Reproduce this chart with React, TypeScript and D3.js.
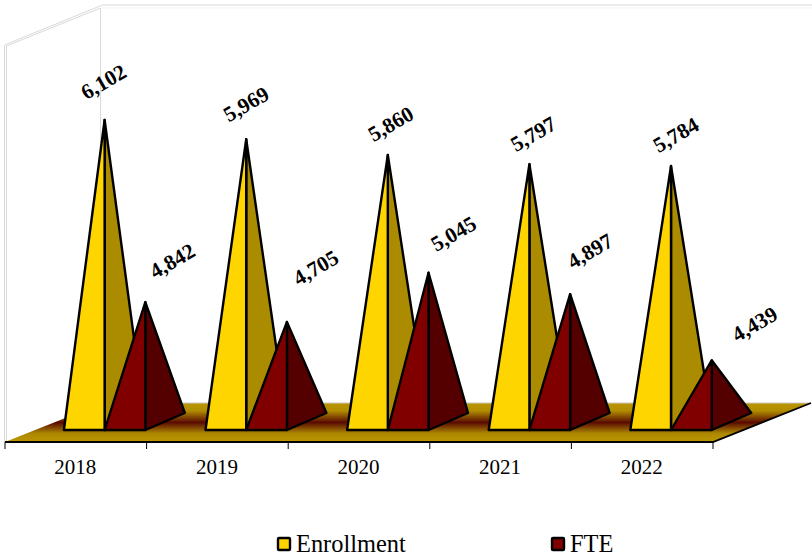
import React from "react";
import * as d3 from "d3";

const categories = ["2018", "2019", "2020", "2021", "2022"];
const enrollment = [6102, 5969, 5860, 5797, 5784];
const fte = [4842, 4705, 5045, 4897, 4439];
const seriesNames = ["Enrollment", "FTE"];
const enrollmentLabelOffsets = [[-1, -38], [0, -35], [3, -31], [4, -30], [5, -31]];
const fteLabelOffsets = [[27, -41], [29, -54], [25, -39], [20, -43], [43, -36]];

const font = "'Liberation Serif','Times New Roman',serif";
const x = d3.scaleBand<string>().domain(categories).range([5, 713]);
const y = d3.scaleLinear().domain([3957, 6102]).range([430, 120]);

const baseY = 430;
const depthX = 39.5;
const depthY = 17;

function Pyramid({ left, apexY, hw, front, side }: { left: number; apexY: number; hw: number; front: string; side: string }) {
  const c = left + hw;
  const apex = `${c},${apexY}`;
  return (
    <g stroke="#000" strokeWidth={2.4} strokeLinejoin="round">
      <polygon points={`${c},${baseY} ${c + depthX},${baseY - depthY} ${apex}`} fill={side} />
      <polygon points={`${left},${baseY} ${c},${baseY} ${apex}`} fill={front} />
    </g>
  );
}

export default function App() {
  const step = x.bandwidth();
  const hw = step * 0.2875;
  const pad = step * 0.416;
  const ticks = [...categories.map((c) => x(c) as number), 713];
  return (
    <svg width={812} height={557} style={{ position: "absolute", left: 0, top: 0, background: "#fff" }}>
      <defs>
        <linearGradient id="floor" gradientUnits="userSpaceOnUse" x1={0} x2={0} y1={403} y2={442}>
          <stop offset="0" stopColor="#BC9600" />
          <stop offset="0.2" stopColor="#B08C00" />
          <stop offset="0.5" stopColor="#5A0A00" />
          <stop offset="0.78" stopColor="#AC8800" />
          <stop offset="1" stopColor="#BC9600" />
        </linearGradient>
      </defs>
      <g fill="none" stroke="#d9d9d9" strokeWidth={1}>
        <path d="M4.5,442 V45 L102.5,5 H812" />
        <path d="M6.5,441 V46 L100.5,8 V403" />
        <path d="M100.5,8 H812" stroke="#f3f3f3" />
      </g>
      <polygon points="5,442 103,403 811,403 713,442" fill="url(#floor)" />
      <path d="M103,403 H811" stroke="#c8c8c8" strokeWidth={1} fill="none" />
      <path d="M5,442 H713 L811,403" stroke="#000" strokeWidth={1.8} fill="none" />
      {ticks.map((t) => (
        <line key={t} x1={t} x2={t} y1={442} y2={449} stroke="#000" strokeWidth={1} />
      ))}
      {categories.map((c, i) => {
        const left = (x(c) as number) + pad;
        return (
          <g key={c}>
            <Pyramid left={left} apexY={y(enrollment[i])} hw={hw} front="#FFD500" side="#AB8C00" />
            <Pyramid left={left + hw} apexY={y(fte[i])} hw={hw} front="#800000" side="#550000" />
          </g>
        );
      })}
      {categories.map((c, i) => {
        const left = (x(c) as number) + pad;
        const a = left + hw;
        const b = left + 2 * hw;
        return (
          <g key={c} fontFamily={font} fontWeight="bold" fontSize={21.5} textAnchor="middle" fill="#000">
            <text transform={`translate(${a + enrollmentLabelOffsets[i][0]},${y(enrollment[i]) + enrollmentLabelOffsets[i][1]}) rotate(-30)`} dy="0.33em">
              {d3.format(",")(enrollment[i])}
            </text>
            <text transform={`translate(${b + fteLabelOffsets[i][0]},${y(fte[i]) + fteLabelOffsets[i][1]}) rotate(-30)`} dy="0.33em">
              {d3.format(",")(fte[i])}
            </text>
          </g>
        );
      })}
      {categories.map((c) => (
        <text key={c} x={(x(c) as number) + step / 2 - 0.5} y={474} textAnchor="middle" fontFamily={font} fontSize={21} fill="#000">
          {c}
        </text>
      ))}
      <g fontFamily={font} fontSize={24.4} fill="#000">
        <rect x={278} y={538} width={12} height={12} fill="#FFD500" stroke="#000" strokeWidth={2.4} rx={1} />
        <text x={296} y={552}>{seriesNames[0]}</text>
        <rect x={552} y={538} width={12} height={12} fill="#800000" stroke="#000" strokeWidth={2.4} rx={1} />
        <text x={570} y={552}>{seriesNames[1]}</text>
      </g>
    </svg>
  );
}
